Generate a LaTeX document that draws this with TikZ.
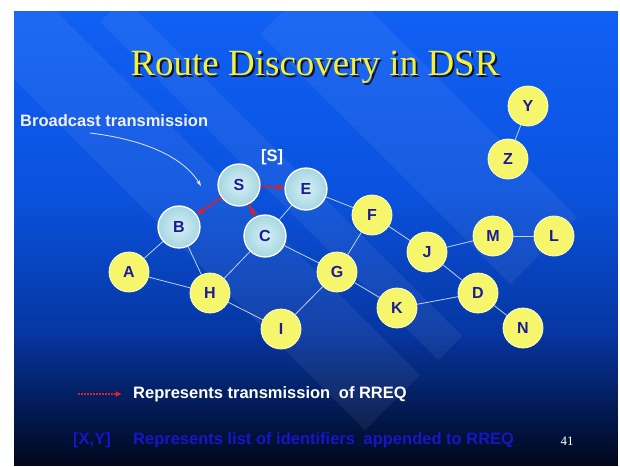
\documentclass[tikz,border=0pt]{standalone}
\usepackage{fontspec}
\setmainfont{Liberation Serif}
\setsansfont{Liberation Sans}
\usetikzlibrary{arrows.meta}
\definecolor{ynode}{HTML}{F6F66C}
\definecolor{ydraw}{HTML}{FFFFC8}
\definecolor{cin}{HTML}{D6F0F4}
\definecolor{cout}{HTML}{A6D6E2}
\definecolor{lbl}{HTML}{1B1B96}
\definecolor{edgec}{HTML}{BCD2F2}
\definecolor{rreq}{HTML}{E01E2A}
\definecolor{titley}{HTML}{F2F23A}
\definecolor{tshadow}{HTML}{101030}
\definecolor{legblue}{HTML}{1616C4}
\definecolor{bgA}{HTML}{1060F4}
\definecolor{bgB}{HTML}{0A52DE}
\definecolor{bgC}{HTML}{0636A2}
\definecolor{bgD}{HTML}{00061A}
\tikzset{
  ynd/.style={circle, minimum size=40pt, inner sep=0pt, fill=ynode, draw=ydraw, line width=0.8pt,
    font=\sffamily\bfseries\fontsize{16}{16}\selectfont, text=lbl},
  cnd/.style={circle, minimum size=42pt, inner sep=0pt, inner color=cin, outer color=cout, draw=white, line width=1.3pt,
    font=\sffamily\bfseries\fontsize{16}{16}\selectfont, text=lbl},
  lnk/.style={draw=edgec, line width=0.8pt},
  rq/.style={draw=rreq, line width=2.1pt, dash pattern=on 3pt off 1pt, -{Latex[length=7pt,width=7pt]}},
  legrq/.style={draw=rreq, line width=1.5pt, dash pattern=on 1.5pt off 1.5pt, -{Latex[length=6pt,width=6pt]}},
  band/.style={fill=white, fill opacity=0.06},
  lab/.style={font=\sffamily\bfseries\fontsize{16.5}{18}\selectfont, inner sep=0pt},
}
\newcommand\shadowtitle[1]{\rlap{\hspace{2pt}\raisebox{-2pt}{\color{tshadow}#1}}#1}
\begin{document}
\begin{tikzpicture}[x=1pt,y=-1pt]
\useasboundingbox (0,0) rectangle (620,466);
\fill[white] (0,0) rectangle (620,466);
% slide background
\begin{scope}
\clip (14,11) rectangle (618,465);
\foreach \i in {0,...,91} {
  \pgfmathsetmacro\yy{11+\i*5}
  \ifdim\yy pt<190pt
    \pgfmathsetmacro\p{(190-\yy)/179*100}
    \colorlet{bgc}{bgA!\p!bgB}
  \else\ifdim\yy pt<330pt
    \pgfmathsetmacro\p{(330-\yy)/140*100}
    \colorlet{bgc}{bgB!\p!bgC}
  \else
    \pgfmathsetmacro\p{max(0,(465-\yy)/135*100)}
    \colorlet{bgc}{bgC!\p!bgD}
  \fi\fi
  \fill[bgc] (14,\yy) rectangle (618,\yy+5.6);
}
\fill[band] (420,375) -- (365,430) -- (-35,30) -- (20,-25) -- cycle;
\fill[band] (462,336) -- (438,360) -- (100,22) -- (124,-2) -- cycle;
\fill[band] (577,217) -- (510,284) -- (260,34) -- (327,-33) -- cycle;
\end{scope}
% title
\node[font=\fontsize{37}{40}\selectfont, text=titley] (title) at (315,68) {\shadowtitle{Route Discovery in DSR}};
% nodes
\node[cnd] (S) at (239,185) {S};
\node[cnd] (E) at (306,189) {E};
\node[cnd] (B) at (179,227) {B};
\node[cnd] (C) at (265,236) {C};
\node[ynd] (A) at (129,272) {A};
\node[ynd] (H) at (210,293) {H};
\node[ynd] (I) at (281,329) {I};
\node[ynd] (G) at (337,272) {G};
\node[ynd] (F) at (372,215) {F};
\node[ynd] (J) at (427,252) {J};
\node[ynd] (M) at (493,236) {M};
\node[ynd] (L) at (554,236) {L};
\node[ynd] (D) at (478,293) {D};
\node[ynd] (K) at (397,308) {K};
\node[ynd] (N) at (523,328) {N};
\node[ynd] (Y) at (528,106) {Y};
\node[ynd] (Z) at (508,159) {Z};
% links
\foreach \a/\b in {B/A, B/H, A/H, C/H, C/G, E/C, E/F, F/G, F/J, G/I, H/I, G/K, K/D, J/D, J/M, M/L, D/N, Y/Z}
  \draw[lnk] (\a) -- (\b);
% RREQ transmissions
\draw[rq] (S) -- (E);
\draw[rq] (S) -- (B);
\draw[rq] (S) -- (C);
% labels
\node[lab, text=white] (sl) at (272,157) {[S]};
\node[lab, text=white!94!blue, anchor=west] (bc) at (20,121) {Broadcast transmission};
\coordinate (bt0) at (90,133);
\coordinate (bt1) at (201,186);
\draw[white!90!blue, line width=0.8pt, -{Stealth[length=6pt,width=4pt]}] (bt0) .. controls (140,139) and (182,155) .. (bt1);
% legend
\coordinate (l0) at (78,394);
\coordinate (l1) at (122,394);
\draw[legrq] (l0) -- (l1);
\node[lab, text=white, anchor=west] (leg1) at (133,394) {Represents transmission\hspace{4pt} of RREQ};
\node[lab, text=legblue, anchor=west] (xy) at (73,440) {[X,Y]};
\node[lab, text=legblue, anchor=west] (leg2) at (133,440) {Represents list of identifiers\hspace{4pt} appended to RREQ};
\node[font=\fontsize{13}{13}\selectfont, text=white, inner sep=0pt] (pg) at (567,441) {41};
\end{tikzpicture}
\end{document}
